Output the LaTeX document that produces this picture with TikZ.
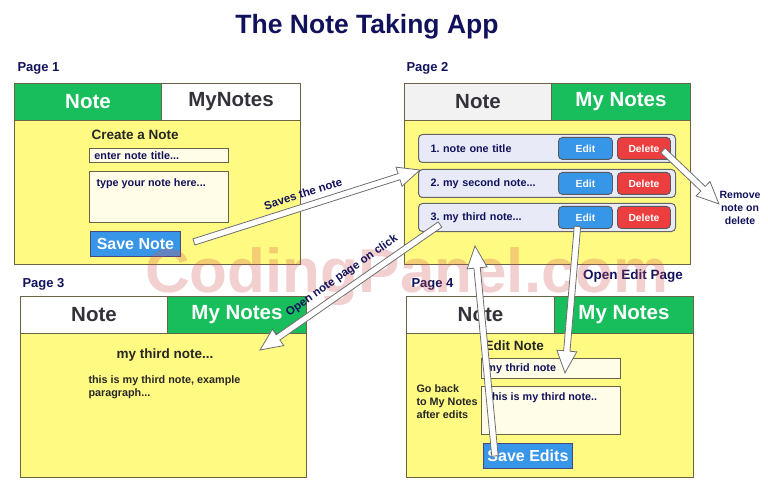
\documentclass[tikz,border=0pt]{standalone}
\usepackage{fontspec}
\setmainfont{Liberation Sans}
\usetikzlibrary{positioning,calc}

\definecolor{tabgreen}{RGB}{24,190,92}
\definecolor{bodyyellow}{RGB}{255,251,130}
\definecolor{boxline}{RGB}{105,100,70}
\definecolor{navytext}{RGB}{18,18,92}
\definecolor{tabtext}{RGB}{50,50,58}
\definecolor{btnblue}{RGB}{55,150,232}
\definecolor{btnred}{RGB}{236,62,62}
\definecolor{rowfill}{RGB}{232,234,248}
\definecolor{fieldfill}{RGB}{255,253,232}
\definecolor{markpink}{RGB}{212,80,80}
\definecolor{arrowline}{RGB}{110,110,110}

% hollow block arrow from #1 to #2
\newcommand{\hollowarrow}[2]{%
  \path let \p1=($(#2)-(#1)$), \n1={atan2(\y1,\x1)}, \n2={veclen(\x1,\y1)} in
    \pgfextra{\xdef\arrang{\n1}\xdef\arrlen{\n2}};
  \draw[hollow, shift={(#1)}, rotate=\arrang]
    (0pt,-3.2pt) -- (\arrlen-22pt,-3.2pt) -- (\arrlen-22pt,-10pt) -- (\arrlen,0pt)
    -- (\arrlen-22pt,10pt) -- (\arrlen-22pt,3.2pt) -- (0pt,3.2pt) -- cycle;
}

\begin{document}
\frenchspacing
\begin{tikzpicture}[x=1pt, y=-1pt, every node/.style={font=\bfseries},
    pagebody/.style={draw=boxline, line width=1pt, fill=bodyyellow, anchor=north west, minimum height=145, inner sep=0pt},
    tabon/.style={draw=boxline, line width=1pt, fill=tabgreen, text=white, anchor=north west, minimum height=37, inner sep=0pt, font=\bfseries\fontsize{20.5}{22}\selectfont},
    taboff/.style={tabon, fill=white, text=tabtext},
    pagelabel/.style={anchor=west, text=navytext, font=\bfseries\fontsize{13}{15}\selectfont},
    heading/.style={anchor=west, text=black!85, font=\bfseries\fontsize{13.5}{15}\selectfont},
    field/.style={draw=boxline, line width=0.9pt, fill=fieldfill, anchor=north west, text width=129, inner xsep=5pt, inner ysep=0pt, align=left, text=navytext, font=\bfseries\fontsize{10.8}{12}\selectfont},
    fieldtext/.style={anchor=north west, text=navytext, align=left, font=\bfseries\fontsize{10.8}{13}\selectfont},
    bigbtn/.style={draw=boxline!70!blue, line width=0.9pt, fill=btnblue, text=white, anchor=north west, minimum height=25, inner sep=0pt, font=\bfseries\fontsize{16}{17}\selectfont},
    noterow/.style={draw=black!60, line width=1pt, rounded corners=4pt, fill=rowfill, anchor=north west, minimum height=28, text width=233, inner xsep=12pt, inner ysep=0pt, align=left, text=navytext, font=\bfseries\fontsize{10.8}{12}\selectfont},
    smallbtn/.style={draw=black!65, line width=0.9pt, rounded corners=4pt, fill=btnblue, text=white, anchor=north west, minimum width=54, minimum height=22, inner sep=0pt, font=\bfseries\fontsize{10.3}{12}\selectfont},
    delbtn/.style={smallbtn, fill=btnred, minimum width=53},
    hollow/.style={draw=arrowline, line width=0.8pt, fill=white, line join=miter},
    arrowlabel/.style={text=navytext, font=\bfseries\fontsize{11.5}{13}\selectfont},
    sidenote/.style={text=navytext, align=center, font=\bfseries\fontsize{10.5}{13}\selectfont}]
    \useasboundingbox (0,0) rectangle (768,497);

    % Title
    \node[text=navytext, font=\bfseries\fontsize{26.5}{30}\selectfont] (title) at (367,27) {The Note Taking App};

    % Page 1
    \node[pagelabel] (lbl1) at (14,68) {Page 1};
    \node[pagebody, minimum width=286] (body1) at (14,119) {};
    \node[tabon, minimum width=147] (note1) at (14,83) {Note};
    \node[taboff, minimum width=139] (my1) at (161,83) {MyNotes};
    \node[heading] (create1) at (88,135) {Create a Note};
    \node[field, minimum height=14] (title1) at (89,148) {enter note title...};
    \node[field, minimum height=51] (ta1) at (89,171) {};
    \node[fieldtext] (tatext1) at ($(ta1.north west)+(4,4)$) {type your note here...};
    \node[bigbtn, minimum width=90] (save1) at (90,231) {Save Note};

    % Page 2
    \node[pagelabel] (lbl2) at (403,68) {Page 2};
    \node[pagebody, minimum width=286] (body2) at (404,119) {};
    \node[taboff, minimum width=147, fill=black!5] (note2) at (404,83) {Note};
    \node[tabon, minimum width=139] (my2) at (551,83) {My Notes};
    \node[noterow] (row1) at (418,134) {1. note one title};
    \node[noterow] (row2) at (418,169) {2. my second note...};
    \node[noterow] (row3) at (418,203) {3. my third note...};
    \node[smallbtn] (edit1) at (558,137) {Edit};
    \node[smallbtn] (edit2) at (558,172) {Edit};
    \node[smallbtn] (edit3) at (558,206) {Edit};
    \node[delbtn] (del1) at (617,137) {Delete};
    \node[delbtn] (del2) at (617,172) {Delete};
    \node[delbtn] (del3) at (617,206) {Delete};

    % Page 3
    \node[pagelabel] (lbl3) at (19,284) {Page 3};
    \node[pagebody, minimum width=286, minimum height=144] (body3) at (20,333) {};
    \node[taboff, minimum width=147] (note3) at (20,296) {Note};
    \node[tabon, minimum width=139] (my3) at (167,296) {My Notes};
    \node[heading, anchor=center] (head3) at (165,355) {my third note...};
    \node[fieldtext, text=black!85] (para3) at (85,372) {this is my third note, example\\paragraph...};

    % Page 4
    \node[pagelabel] (lbl4) at (408,284) {Page 4};
    \node[pagebody, minimum width=287, minimum height=144] (body4) at (406,333) {};
    \node[taboff, minimum width=148] (note4) at (406,296) {Note};
    \node[tabon, minimum width=139] (my4) at (554,296) {My Notes};
    \node[heading] (head4) at (481,346) {Edit Note};
    \node[field, minimum height=20] (title4) at (481,358) {my thrid note};
    \node[field, minimum height=48] (ta4) at (481,386) {};
    \node[fieldtext] (tatext4) at ($(ta4.north west)+(4,3)$) {this is my third note..};
    \node[bigbtn, minimum width=89] (save4) at (483,443) {Save Edits};
    \node[fieldtext, text=black!85] (goback) at (413,381) {Go back\\to My Notes\\after edits};

    % Side labels
    \node[arrowlabel, font=\bfseries\fontsize{13.5}{15}\selectfont] (openedit) at (633,276) {Open Edit Page};
    \node[sidenote] (remove) at (740,208) {Remove\\note on\\delete};

    % Watermark
    \node[anchor=base, text=markpink, opacity=0.27, font=\bfseries\fontsize{62}{64}\selectfont] (mark) at (407,292) {CodingPanel.com};

    % Arrow ends
    \coordinate (savetail) at ($(save1.east)+(13,-2)$);
    \coordinate (savetip) at ($(row2.north west)+(2,1)$);
    \coordinate (deltail) at ($(del1.center)+(19,2)$);
    \coordinate (deltip) at ($(body2.east)+(28,12)$);
    \coordinate (opentail) at ($(row3.west)+(22,7)$);
    \coordinate (opentip) at ($(body3.north east)+(-47,17)$);
    \coordinate (edittail) at ($(edit3.center)+(-8,9)$);
    \coordinate (edittip) at ($(title4.south)+(14,-6)$);
    \coordinate (backtail) at ($(save4.center)+(-33,0)$);
    \coordinate (backtip) at ($(body2.south west)+(71,-19)$);

    % Arrows
    \hollowarrow{savetail}{savetip}
    \hollowarrow{deltail}{deltip}
    \hollowarrow{opentail}{opentip}
    \hollowarrow{edittail}{edittip}
    \hollowarrow{backtail}{backtip}

    % Arrow labels
    \path (savetail) -- node[arrowlabel, sloped, above=5pt] (savelbl) {Saves the note} (savetip);
    \path (opentail) -- node[arrowlabel, sloped, above=5pt] (openlbl) {Open note page on click} (opentip);
\end{tikzpicture}
\end{document}
